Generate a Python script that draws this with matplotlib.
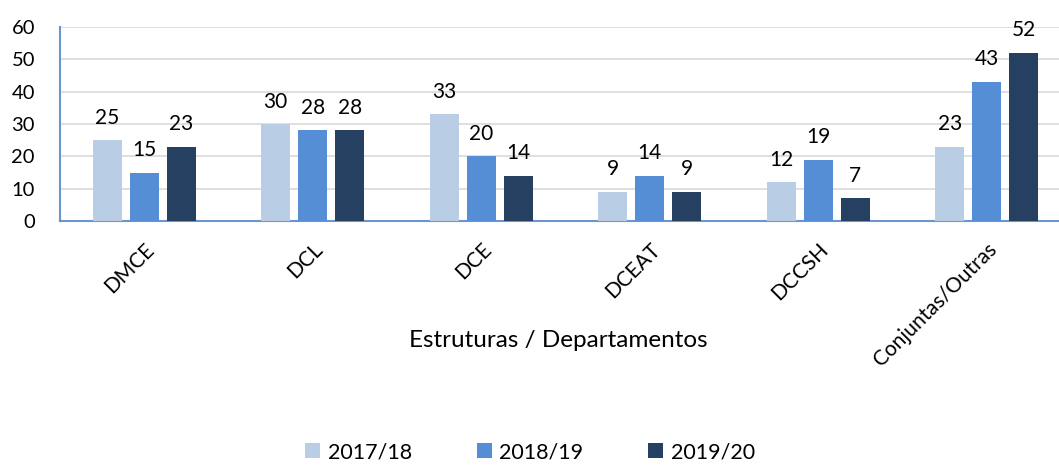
import matplotlib
matplotlib.use("Agg")
import matplotlib.pyplot as plt
import numpy as np

categories = ["DMCE", "DCL", "DCE", "DCEAT", "DCCSH", "Conjuntas/Outras"]
series_names = ["2017/18", "2018/19", "2019/20"]
v1718 = [25, 30, 33, 9, 12, 23]
v1819 = [15, 28, 20, 14, 19, 43]
v1920 = [23, 28, 14, 9, 7, 52]
colors = ["#B9CDE5", "#558ED5", "#254061"]

plt.rcParams['font.family'] = ['Lato', 'DejaVu Sans']

fig = plt.figure(figsize=(10.59, 4.65), dpi=100)
W, H = 1059, 465
left, right = 60, 1071
top, bottom = 27, 221
ax = fig.add_axes([left / W, 1 - bottom / H, (right - left) / W, (bottom - top) / H])

x = np.arange(len(categories))
bw = 0.172
step = 0.22
for i, (vals, name, c) in enumerate(zip([v1718, v1819, v1920], series_names, colors)):
    pos = x + (i - 1) * step
    bars = ax.bar(pos, vals, bw, color=c, label=name, zorder=3)
    for b, v in zip(bars, vals):
        ax.annotate(str(v), (b.get_x() + b.get_width() / 2, v), xytext=(0, 9),
                    textcoords="offset points", ha="center", va="bottom",
                    fontsize=15, color="#000000")

ax.set_xlim(-0.5, 5.5)
ax.set_ylim(0, 60)
ax.set_yticks(range(0, 61, 10))
ax.grid(axis="y", color="#D9D9D9", linewidth=1.2, zorder=0)
for s in ["top", "right"]:
    ax.spines[s].set_visible(False)
for s in ["left", "bottom"]:
    ax.spines[s].set_color("#6A96CF")
    ax.spines[s].set_linewidth(1.5)
ax.tick_params(axis="y", length=0, pad=18, labelsize=14.5)
ax.tick_params(axis="x", length=0, pad=13, labelsize=15)
ax.set_xticks(x)
ax.set_xticklabels(categories, rotation=45, ha="right", rotation_mode="anchor")

fig.text(558 / W, 1 - 340 / H, "Estruturas / Departamentos", ha="center", va="center", fontsize=17.5)

handles, labels = ax.get_legend_handles_labels()
fig.legend(handles, labels, loc="center", bbox_to_anchor=(530 / W, 1 - 452 / H), ncol=3,
           frameon=False, fontsize=15.5, handlelength=0.7, handleheight=0.7,
           columnspacing=3.0, handletextpad=0.35)

fig.savefig("out.png", dpi=100)
